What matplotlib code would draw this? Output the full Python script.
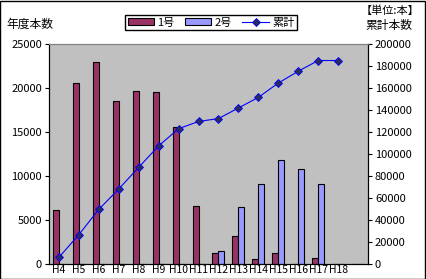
import matplotlib.pyplot as plt
import numpy as np

plt.rcParams['font.family'] = ['Noto Sans CJK JP', 'DejaVu Sans']

# data
years = ['H4', 'H5', 'H6', 'H7', 'H8', 'H9', 'H10', 'H11', 'H12',
         'H13', 'H14', 'H15', 'H16', 'H17', 'H18', '']
no1 = [6100, 20600, 23000, 18500, 19700, 19500, 15600, 6550, 1200,
       3150, 570, 1200, 0, 680, 0, 0]
no2 = [0, 0, 0, 0, 0, 0, 0, 0, 1480, 6440, 9090, 11780, 10760, 9090, 0, 0]
total = [6100, 26700, 49700, 68200, 87900, 107400, 123000, 129550, 132230,
         141820, 151480, 164460, 175220, 184990, 184990, np.nan]


def main() -> None:
    fig = plt.figure(figsize=(4.26, 2.79), dpi=100)
    ax = fig.add_axes([49 / 426, 1 - 264 / 279, 319 / 426, 220 / 279])
    ax2 = ax.twinx()

    x = np.arange(len(years))
    w = 0.3
    ax.set_facecolor('#C0C0C0')
    b1 = ax.bar(x - w / 2, no1, w, color='#993366', edgecolor='black', linewidth=0.8, label='1号')
    b2 = ax.bar(x + w / 2, no2, w, color='#9999FF', edgecolor='black', linewidth=0.8, label='2号')
    ln, = ax2.plot(x[:15], total[:15], color='blue', linewidth=0.8, marker='D', markersize=4.5,
                   markerfacecolor='#2B2B5E', markeredgecolor='blue', markeredgewidth=0.6,
                   label='累計')

    ax.set_xlim(-0.5, len(years) - 0.5)
    ax.set_ylim(0, 25000)
    ax.set_yticks(range(0, 25001, 5000))
    ax2.set_ylim(0, 200000)
    ax2.set_yticks(range(0, 200001, 20000))
    ax.set_xticks(x)
    ax.set_xticklabels(years)

    ax.tick_params(axis='x', length=0, labelsize=7.5, pad=1)
    ax.tick_params(axis='y', length=3, labelsize=8, pad=2)
    ax2.tick_params(axis='y', length=3, labelsize=8, pad=2)

    for a in (ax, ax2):
        a.spines['top'].set_color('#808080')

    fig.text(6 / 426, 1 - 24 / 279, '年度本数', fontsize=8.5, va='center', ha='left')
    fig.text(390 / 426, 1 - 11 / 279, '【単位:本】', fontsize=8, va='center', ha='center')
    fig.text(389 / 426, 1 - 25 / 279, '累計本数', fontsize=8.5, va='center', ha='center')

    fig.legend(handles=[b1, b2, ln], loc='center', ncol=3,
               bbox_to_anchor=(211 / 426, 1 - 22.5 / 279), fontsize=8,
               frameon=True, fancybox=False, edgecolor='black', framealpha=1,
               handlelength=2.4, handleheight=0.6, columnspacing=0.9,
               handletextpad=0.3, borderpad=0.2, borderaxespad=0)

    fig.patches.append(plt.Rectangle((0.001, 0.001), 0.997, 0.996, transform=fig.transFigure,
                                     fill=False, edgecolor='black', linewidth=1))

    fig.savefig('out.png', dpi=100)


if __name__ == '__main__':
    main()
